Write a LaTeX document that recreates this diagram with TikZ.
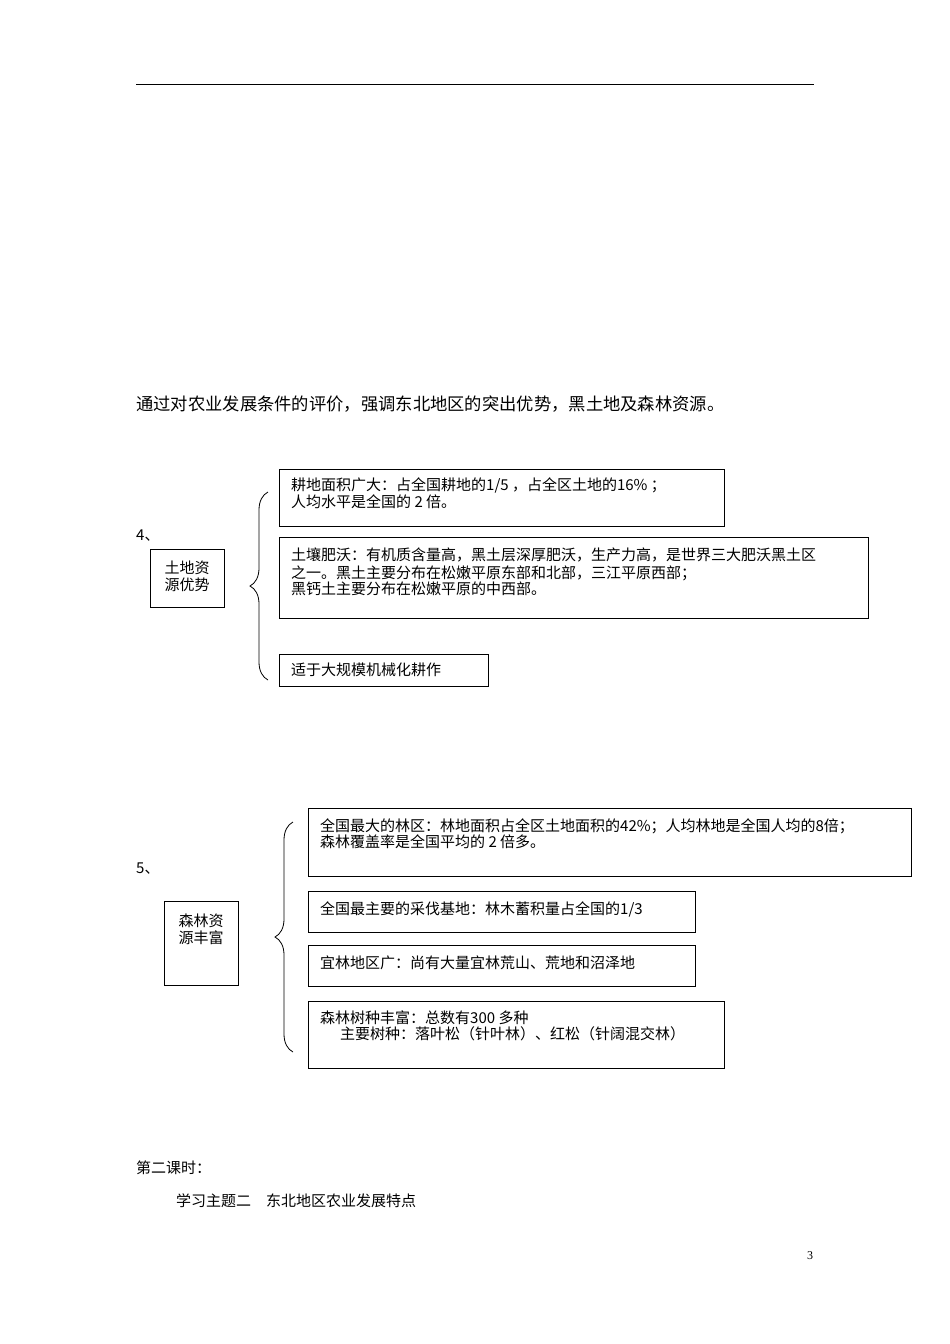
\documentclass[tikz,border=0pt]{standalone}
\usepackage{fontspec}
\setmainfont{Liberation Serif}
\newfontfamily\cjk{Noto Sans CJK SC}
\usetikzlibrary{decorations.pathreplacing}
\begin{document}
\begin{tikzpicture}[x=1pt,y=-1pt,
  txt/.style={anchor=west,inner sep=0,font=\cjk\fontsize{15}{17}\selectfont},
  bx/.style={draw,line width=0.8pt},
  br/.style={decorate,decoration={brace,amplitude=18pt},line width=0.8pt}]
\useasboundingbox (0,0) rectangle (950,1344);
\draw[line width=1pt] (136,84) -- (814,84);
\node[txt,font=\cjk\fontsize{17.3}{19}\selectfont] (intro) at (136,404) {通过对农业发展条件的评价，强调东北地区的突出优势，黑土地及森林资源。};
\node[txt] (n4) at (136,536) {4、};
\draw[bx] (150,549) rectangle (224,607);
\node[txt,anchor=center,align=center] (land) at (187,576) {土地资\\源优势};
\draw[br] (268,680) -- (268,492);
\draw[bx] (279,469) rectangle (724,526);
\node[txt] (a1) at (291,485) {耕地面积广大：占全国耕地的1/5 ，占全区土地的16\% ；};
\node[txt] (a2) at (291,502) {人均水平是全国的 2 倍。};
\draw[bx] (279,537) rectangle (868,618);
\node[txt] (b1) at (291,555) {土壤肥沃：有机质含量高，黑土层深厚肥沃，生产力高，是世界三大肥沃黑土区};
\node[txt] (b2) at (291,573) {之一。黑土主要分布在松嫩平原东部和北部，三江平原西部；};
\node[txt] (b3) at (291,589) {黑钙土主要分布在松嫩平原的中西部。};
\draw[bx] (279,654) rectangle (488,686);
\node[txt] (c1) at (291,670) {适于大规模机械化耕作};
\node[txt] (n5) at (136,869) {5、};
\draw[bx] (164,901) rectangle (238,985);
\node[txt,anchor=center,align=center] (forest) at (201,929) {森林资\\源丰富};
\draw[br] (293,1052) -- (293,822);
\draw[bx] (308,808) rectangle (911,876);
\node[txt] (d1) at (320,826) {全国最大的林区：林地面积占全区土地面积的42\%；人均林地是全国人均的8倍；};
\node[txt] (d2) at (320,842) {森林覆盖率是全国平均的 2 倍多。};
\draw[bx] (308,891) rectangle (695,932);
\node[txt] (e1) at (320,909) {全国最主要的采伐基地：林木蓄积量占全国的1/3};
\draw[bx] (308,945) rectangle (695,986);
\node[txt] (f1) at (320,963) {宜林地区广：尚有大量宜林荒山、荒地和沼泽地};
\draw[bx] (308,1001) rectangle (724,1068);
\node[txt] (g1) at (320,1018) {森林树种丰富：总数有300 多种};
\node[txt] (g2) at (340,1034) {主要树种：落叶松（针叶林）、红松（针阔混交林）};
\node[txt] (s1) at (136,1168) {第二课时：};
\node[txt] (s2) at (176,1201) {学习主题二　东北地区农业发展特点};
\node[txt,font=\fontsize{12}{14}\selectfont] (pg) at (807,1256) {3};
\end{tikzpicture}
\end{document}
